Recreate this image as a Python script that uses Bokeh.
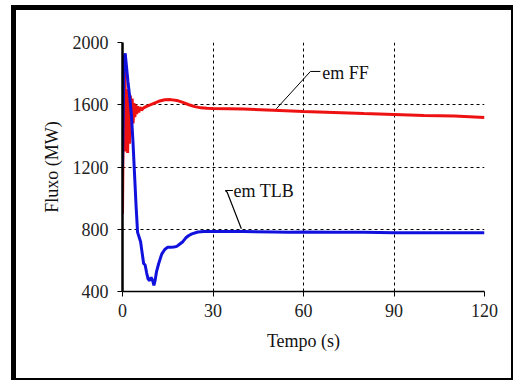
from bokeh.plotting import figure
from bokeh.models import FixedTicker, Range1d
from bokeh.core.properties import value
from bokeh.embed import file_html
from bokeh.resources import INLINE

# Data
ff_t = [0, 0.4, 0.8, 1.1, 1.4, 1.7, 2.0, 2.3, 2.6, 2.9, 3.2, 3.5, 3.8, 4.1, 4.4, 4.7, 5.0, 5.4, 5.8, 6.3,
        7, 8, 10, 12, 14, 16, 18, 20, 22, 24, 26, 28, 30, 40, 50, 60, 70, 80, 90, 100, 110, 120]
ff_v = [900, 1900, 1850, 1300, 1700, 1290, 1680, 1350, 1660, 1420, 1640, 1480, 1610, 1520, 1600, 1540, 1590, 1550, 1585, 1565,
        1580, 1590, 1605, 1622, 1632, 1633, 1628, 1615, 1600, 1588, 1580, 1577, 1576, 1573, 1565, 1557, 1550, 1543, 1537, 1531, 1527, 1518]

tlb_t = [0, 0.5, 0.9, 1.3, 1.8, 2.4, 3.0, 3.5, 4.0, 4.5, 5.0, 5.5, 6.0, 6.5, 7.0, 7.5, 8.0, 8.5, 9.0, 9.5, 10.0, 10.4, 10.8, 11.3,
         12, 13, 14, 15, 16, 17, 18, 19, 20, 21, 22, 23, 25, 27, 30, 40, 50, 55, 60, 70, 80, 90, 100, 110, 120]
tlb_v = [1200, 1900, 1930, 1850, 1750, 1650, 1520, 1350, 1150, 950, 780, 750, 720, 650, 580, 570, 520, 480, 470, 490, 470, 440, 470, 530,
         580, 640, 670, 685, 685, 686, 690, 705, 720, 745, 760, 770, 782, 785, 785, 785, 783, 780, 782, 780, 780, 778, 778, 778, 778]

x_ticks = [0, 30, 60, 90, 120]
y_ticks = [400, 800, 1200, 1600, 2000]

series_labels = ["em  FF", "em TLB"]
label_x = [66.2, 36.8]
label_y = [1807, 1043]

ff_leader_x = [65.6, 62.3, 51.0]
ff_leader_y = [1814, 1814, 1574]
tlb_leader_x = [36.6, 34.1, 34.7, 39.4]
tlb_leader_y = [1049, 1049, 1038, 803]

serif = "Liberation Serif"

p = figure(width=513, height=380, output_backend="svg", toolbar_location=None,
           x_range=Range1d(0, 120), y_range=Range1d(400, 2000),
           min_border_left=122, min_border_right=29, min_border_top=42, min_border_bottom=89)
p.outline_line_color = None
p.background_fill_color = "white"
p.border_fill_color = "white"
p.border_fill_alpha = 0
p.styles = {
    "box-shadow": ("inset 11px 0 0 0 white, inset 0 5px 0 0 white, "
                   "inset 16px 0 0 0 black, inset 0 10px 0 0 black, "
                   "inset -2px 0 0 0 black, inset 0 -2px 0 0 black"),
    "background-color": "white",
}

for ax, ticks in ((p.xaxis[0], x_ticks), (p.yaxis[0], y_ticks)):
    ax.ticker = FixedTicker(ticks=ticks)
    ax.axis_line_color = "black"
    ax.major_tick_line_color = "black"
    ax.major_tick_out = 5
    ax.major_tick_in = 0
    ax.minor_tick_line_color = None
    ax.major_label_text_font = serif
    ax.major_label_text_font_size = "18px"
    ax.major_label_text_color = "#222222"
    ax.axis_label_text_font = serif
    ax.axis_label_text_font_size = "18px"
    ax.axis_label_text_font_style = "normal"
    ax.axis_label_text_color = "#111111"

p.yaxis[0].axis_line_width = 2.5
p.xaxis[0].axis_line_width = 1.5
p.yaxis[0].major_label_standoff = 9
p.xaxis[0].major_label_standoff = 7
p.xaxis.axis_label = "Tempo (s)"
p.yaxis.axis_label = "Fluxo (MW)"
p.xaxis[0].axis_label_standoff = 11
p.yaxis[0].axis_label_standoff = 8

for g, ticks in ((p.xgrid[0], x_ticks), (p.ygrid[0], y_ticks)):
    g.ticker = FixedTicker(ticks=ticks)
    g.grid_line_color = "black"
    g.grid_line_dash = "3 3"
    g.grid_line_width = 1

p.line(ff_t, ff_v, line_color="#ee1111", line_width=3)
p.line(tlb_t, tlb_v, line_color="#1111dd", line_width=3)

p.line(ff_leader_x, ff_leader_y, line_color="black", line_width=1)
p.line(tlb_leader_x, tlb_leader_y, line_color="black", line_width=1.2)

p.text(x=label_x, y=label_y, text=series_labels, text_font=value(serif),
       text_font_size="18px", text_baseline="middle", text_align="left", text_color="#111111")

open("out.html", "w").write(file_html(p, INLINE))
